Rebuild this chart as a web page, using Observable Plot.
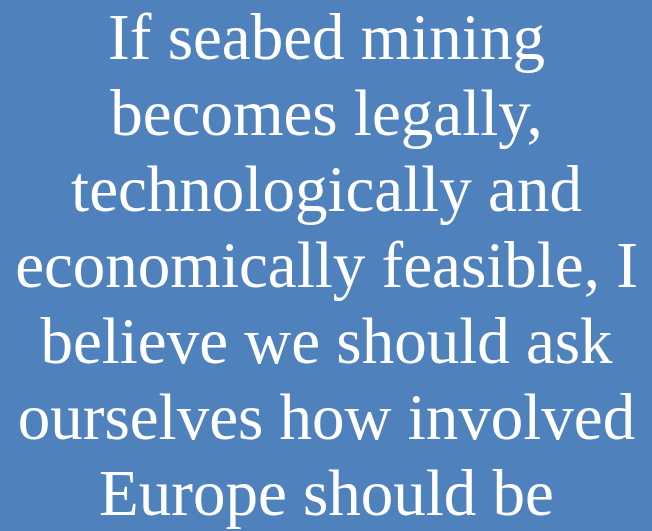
<!DOCTYPE html>
<html>
<head>
<meta charset="utf-8">
<script src="https://cdn.jsdelivr.net/npm/d3@7"></script>
<script src="https://cdn.jsdelivr.net/npm/@observablehq/plot@0.6"></script>
<style>
  html, body { margin: 0; padding: 0; background: #4F81BD; overflow: hidden; }
</style>
</head>
<body>
<div id="chart"></div>
<script>
const lines = [
  "If seabed mining",
  "becomes legally,",
  "technologically and",
  "economically feasible, I",
  "believe we should ask",
  "ourselves how involved",
  "Europe should be"
];
const rows = lines.map((text, i) => ({i, text}));

const chart = Plot.plot({
  width: 652,
  height: 531,
  margin: 0,
  x: {domain: [0, 1], range: [0, 652], axis: null},
  y: {type: "point", domain: d3.range(lines.length), range: [55, 516], padding: 0, axis: null},
  style: {background: "#4F81BD", overflow: "visible"},
  marks: [
    Plot.text(rows, {
      x: () => 0.5,
      y: "i",
      text: "text",
      fill: "white",
      fontSize: 65,
      fontFamily: "Liberation Serif",
      textAnchor: "middle",
      lineAnchor: "bottom"
    })
  ]
});
document.getElementById("chart").appendChild(chart);
</script>
</body>
</html>
